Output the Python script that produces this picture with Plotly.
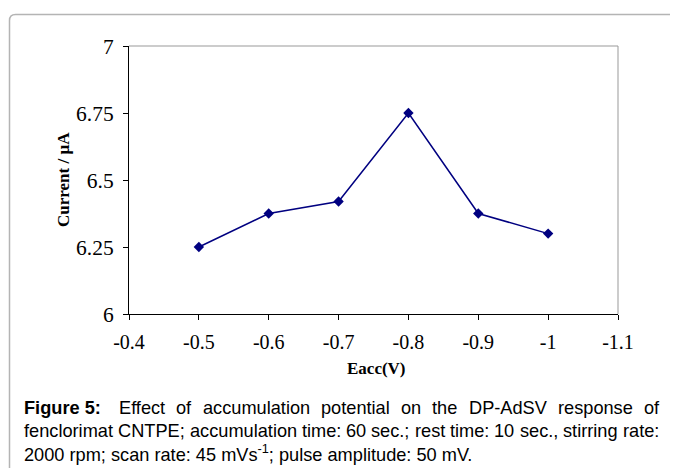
import plotly.graph_objects as go

# ---- data ----
eacc = [-0.5, -0.6, -0.7, -0.8, -0.9, -1.0]
current = [6.25, 6.375, 6.42, 6.75, 6.375, 6.30]
x_tickvals = [-0.4, -0.5, -0.6, -0.7, -0.8, -0.9, -1.0, -1.1]
x_ticktext = ["-0.4", "-0.5", "-0.6", "-0.7", "-0.8", "-0.9", "-1", "-1.1"]
y_tickvals = [6, 6.25, 6.5, 6.75, 7]
y_ticktext = ["6", "6.25", "6.5", "6.75", "7"]

caption_line1 = ["<b>Figure 5:</b>", "Effect", "of", "accumulation", "potential", "on",
                 "the", "DP-AdSV", "response", "of"]
caption_line2 = ["fenclorimat", "CNTPE;", "accumulation", "time:", "60", "sec.;", "rest",
                 "time:", "10", "sec.,", "stirring", "rate:"]
caption_line3 = "2000 rpm; scan rate: 45 mVs<sup>-1</sup>; pulse amplitude: 50 mV."

OFF = 8  # default body margin of the html page
W, H = 678 - OFF, 468 - OFF
# plot area in reference-picture pixels
PL, PR, PT, PB = 129, 618, 46, 314
L, R, T, B = PL - OFF, W - (PR - OFF), PT - OFF, H - (PB - OFF)
PW, PH = W - L - R, H - T - B


def px(x):
    return (x - OFF - L) / PW


def py(y):
    return (H - B - (y - OFF)) / PH


serif = "Liberation Serif"
sans = "Liberation Sans"
CAP = 18.2

# Arial / Liberation Sans advance widths (1/1000 em)
AW = {' ': 278, '(': 333, ')': 333, ',': 278, '-': 333, '.': 278, ':': 278, ';': 278,
      'A': 667, 'C': 722, 'D': 722, 'E': 667, 'N': 722, 'P': 667, 'S': 667, 'T': 611, 'V': 667,
      'a': 556, 'c': 500, 'd': 556, 'e': 556, 'f': 278, 'g': 556, 'h': 556, 'i': 222,
      'l': 222, 'm': 833, 'n': 556, 'o': 556, 'p': 556, 'r': 333, 's': 500, 't': 278,
      'u': 556, 'v': 500}
for d in "0123456789":
    AW[d] = 556
AWB = {'F': 611, 'i': 278, 'g': 611, 'u': 611, 'r': 389, 'e': 556, ' ': 278, '5': 556, ':': 333}


def word_width(w, size):
    if w.startswith("<b>"):
        t = w[3:-4]
        return sum(AWB.get(c, 556) for c in t) * size / 1000
    return sum(AW.get(c, 556) for c in w) * size / 1000


def justify(words, x0, x1, size, first_gap=1.0):
    widths = [word_width(w, size) for w in words]
    weights = [first_gap] + [1.0] * (len(words) - 2)
    unit = (x1 - x0 - sum(widths)) / sum(weights)
    xs, x = [], x0
    for i, wd in enumerate(widths):
        xs.append(x)
        if i < len(weights):
            x += wd + unit * weights[i]
    return xs


fig = go.Figure()
fig.add_trace(go.Scatter(
    x=eacc, y=current, mode="lines+markers",
    line=dict(color="#000080", width=1.5),
    marker=dict(symbol="diamond", size=8, color="#000080"),
    showlegend=False,
))

fig.update_layout(
    width=W, height=H,
    margin=dict(l=L, r=R, t=T, b=B, pad=0),
    paper_bgcolor="white", plot_bgcolor="white",
    xaxis=dict(range=[-0.4, -1.1], tickvals=x_tickvals, ticktext=x_ticktext,
               showgrid=False, zeroline=False, showline=True, linecolor="black",
               linewidth=1, ticks="outside", ticklen=5, tickcolor="black",
               ticklabelstandoff=5,
               tickfont=dict(family=serif, size=20, color="black")),
    yaxis=dict(range=[6, 7], tickvals=y_tickvals, ticktext=y_ticktext,
               showgrid=False, zeroline=False, showline=True, linecolor="black",
               linewidth=1, ticks="outside", ticklen=5, tickcolor="black",
               ticklabelstandoff=5,
               tickfont=dict(family=serif, size=21.5, color="black")),
)

shapes = []
shapes.append(dict(type="line", xref="paper", yref="paper", x0=0, x1=1, y0=1, y1=1,
                   line=dict(color="#999999", width=1)))
shapes.append(dict(type="line", xref="paper", yref="paper", x0=1, x1=1, y0=0, y1=1,
                   line=dict(color="#999999", width=1)))
fx, fy, r = 9.5, 14.5, 6
path = (f"M {px(fx)},{py(480)} L {px(fx)},{py(fy + r)} "
        f"Q {px(fx)},{py(fy)} {px(fx + r)},{py(fy)} L {px(690)},{py(fy)}")
shapes.append(dict(type="path", xref="paper", yref="paper", path=path,
                   line=dict(color="#b4b4b4", width=1.5)))
fig.update_layout(shapes=shapes)

ann = []
ann.append(dict(text="<b>Current / µA</b>", x=px(63), y=py(180), xref="paper", yref="paper",
                textangle=-90, showarrow=False, xanchor="center", yanchor="middle",
                font=dict(family=serif, size=17, color="black")))
ann.append(dict(text="<b>Eacc(V)</b>", x=px(376), y=py(368), xref="paper", yref="paper",
                showarrow=False, xanchor="center", yanchor="middle",
                font=dict(family=serif, size=17, color="black")))

cap_font = dict(family=sans, size=CAP, color="black")
for words, yy, fg in ((caption_line1, 408, 1.6), (caption_line2, 431, 1.0)):
    for w, xx in zip(words, justify(words, 22, 657, CAP, fg)):
        ann.append(dict(text=w, x=px(xx), y=py(yy), xref="paper", yref="paper",
                        showarrow=False, xanchor="left", yanchor="middle", font=cap_font))
ann.append(dict(text=caption_line3, x=px(22), y=py(453), xref="paper", yref="paper",
                showarrow=False, xanchor="left", yanchor="middle", font=cap_font))
fig.update_layout(annotations=ann)

fig.write_html("out.html")
